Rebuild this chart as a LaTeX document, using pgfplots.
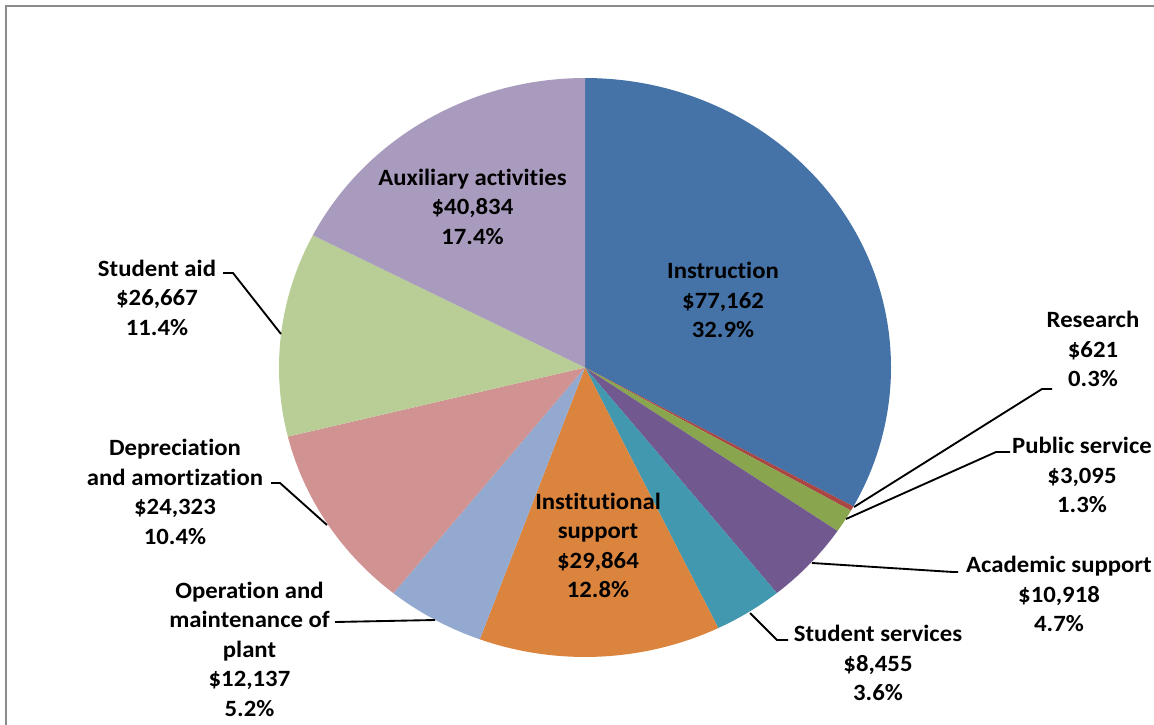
\documentclass[border=0pt]{standalone}
\usepackage{pgfplots}
\pgfplotsset{compat=1.18}
\usepackage{fontspec}
\setmainfont{Carlito}[FakeStretch=1.06, Ligatures=NoCommon]

\definecolor{cInstr}{HTML}{4572A7}
\definecolor{cRes}{HTML}{AA4643}
\definecolor{cPub}{HTML}{89A54E}
\definecolor{cAcad}{HTML}{71588F}
\definecolor{cStud}{HTML}{4198AF}
\definecolor{cInst}{HTML}{DB843D}
\definecolor{cOper}{HTML}{93A9CF}
\definecolor{cDepr}{HTML}{D19392}
\definecolor{cAid}{HTML}{B9CD96}
\definecolor{cAux}{HTML}{A99BBD}

% expenses in $ thousands
\def\tot{234.076}
\def\cum{0}
\def\rx{229.5pt}
\def\ry{217.1pt}
\newcommand\slice[2]{%
  \pgfmathsetmacro\aA{90-\cum/\tot*360}%
  \pgfmathsetmacro\cumB{\cum+#1}%
  \pgfmathsetmacro\aB{90-\cumB/\tot*360}%
  \xdef\cum{\cumB}%
  \edef\tmp{\noexpand\fill[#2] (axis cs:0,0) -- (axis cs:{cos(\aA)},{sin(\aA)})
    arc[start angle=\aA, end angle=\aB, x radius=\rx, y radius=\ry] -- cycle;}%
  \tmp}

\begin{document}
\begin{tikzpicture}[x=0.75pt, y=-0.75pt,
    lab/.style={font=\fontsize{17.5}{22.1}\selectfont\bfseries, align=center, inner sep=0pt},
    lead/.style={line width=1.4pt, black}]
  \draw[color=black!45, line width=1.5pt] (6,740) -- (6,6) -- (1170,6);
  \coordinate (C) at (585,367.5);
  \begin{axis}[at={(C)}, anchor=origin, x=\rx, y=\ry, hide axis,
      xmin=-1.1, xmax=1.1, ymin=-1.1, ymax=1.1, clip=false]
    \slice{77.162}{cInstr}
    \slice{0.621}{cRes}
    \slice{3.095}{cPub}
    \slice{10.918}{cAcad}
    \slice{8.455}{cStud}
    \slice{29.864}{cInst}
    \slice{12.137}{cOper}
    \slice{24.323}{cDepr}
    \slice{26.667}{cAid}
    \slice{40.834}{cAux}
  \end{axis}

  % leader lines
  \draw[lead] (854,507) -- (1042,389) -- (1052,389);
  \draw[lead] (846,519) -- (996,452) -- (1010,452);
  \draw[lead] (812,563) -- (953,572) -- (958,572);
  \draw[lead] (750,613) -- (777,640) -- (788,640);
  \draw[lead] (281,334) -- (233,273) -- (223,273);
  \draw[lead] (327,525) -- (280,483) -- (271,483);
  \draw[lead] (435,620) -- (335,622);

  % data labels
  \node[lab] at (723,300) {Instruction\\\$77,162\\32.9\%};
  \node[lab] at (1093,349) {Research\\\$621\\0.3\%};
  \node[lab] at (1082,475) {Public service\\\$3,095\\1.3\%};
  \node[lab] at (1059,594) {Academic support\\\$10,918\\4.7\%};
  \node[lab] at (878,663) {Student services\\\$8,455\\3.6\%};
  \node[lab] at (598,545.5) {Institutional\\support\\\$29,864\\12.8\%};
  \node[lab] at (249.5,649) {Operation and\\maintenance of\\plant\\\$12,137\\5.2\%};
  \node[lab] at (175,492) {Depreciation\\and amortization\\\$24,323\\10.4\%};
  \node[lab] at (157,297.5) {Student aid\\\$26,667\\11.4\%};
  \node[lab] at (472.5,206.5) {Auxiliary activities\\\$40,834\\17.4\%};

  \pgfresetboundingbox
  \path[use as bounding box] (0,0) rectangle (1154,725);
\end{tikzpicture}
\end{document}
